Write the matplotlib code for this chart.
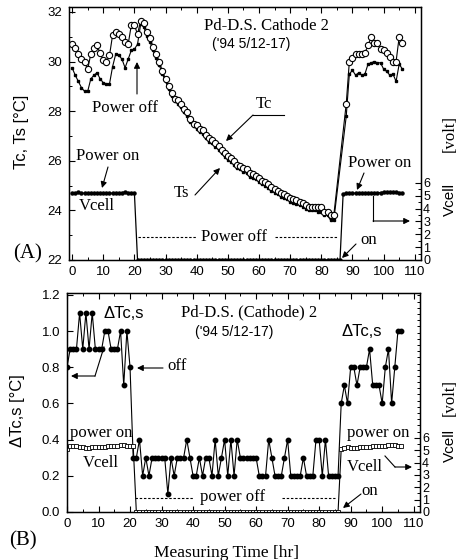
import numpy as np
import matplotlib
matplotlib.use("Agg")
import matplotlib.pyplot as plt
from matplotlib.lines import Line2D
from matplotlib.ticker import MultipleLocator, FixedLocator

W, H = 458, 560
SERIF = ['Liberation Serif', 'DejaVu Serif']
SANS = ['Liberation Sans', 'DejaVu Sans']
plt.rcParams['font.family'] = SANS

# ---------------- panel (A) data ----------------
# sampling times [hr]
t_pre = np.arange(0, 22)
t_decay = np.arange(22, 85)
t_post = np.arange(88, 107)

tc_pre = [30.7, 30.55, 30.3, 30.1, 29.97, 29.7, 30.3, 30.55, 30.66, 30.33,
          30.05, 30.0, 30.25, 31.07, 31.2, 31.1, 31.0, 30.8, 30.7, 31.47,
          31.47, 31.1]
tc_decay = [31.65, 31.55, 31.2, 30.95, 30.6, 30.3, 30.0, 29.6, 29.3, 29.0,
            28.75, 28.5, 28.45, 28.3, 28.1, 27.95, 27.7, 27.5, 27.45, 27.3,
            27.25, 27.05, 26.9, 26.85, 26.7, 26.6, 26.45, 26.3, 26.2, 26.1,
            26.0, 25.85, 25.8, 25.7, 25.65, 25.5, 25.45, 25.4, 25.3, 25.2,
            25.15, 25.05, 24.95, 24.85, 24.8, 24.7, 24.65, 24.6, 24.5, 24.45,
            24.4, 24.35, 24.3, 24.2, 24.15, 24.15, 24.15, 24.15, 24.15, 23.95,
            23.95, 23.8, 23.8]
tc_post = [28.3, 30.0, 30.15, 30.3, 30.3, 30.3, 30.35, 30.65, 31.0, 30.75,
           30.75, 30.5, 30.45, 30.35, 30.2, 30.0, 30.0, 31.0, 30.75]

ts_pre = [29.75, 29.45, 29.2, 28.95, 28.8, 28.8, 29.3, 29.45, 29.55, 29.3,
          29.15, 29.1, 29.1, 29.8, 30.3, 30.25, 30.1, 29.75, 30.1, 30.45,
          30.5, 30.7]
ts_decay = [31.5, 31.4, 31.05, 30.8, 30.45, 30.15, 29.85, 29.5, 29.2, 28.9,
            28.6, 28.4, 28.3, 28.15, 27.95, 27.8, 27.55, 27.4, 27.3, 27.15,
            27.1, 26.9, 26.75, 26.7, 26.55, 26.45, 26.3, 26.15, 26.05, 25.95,
            25.85, 25.7, 25.65, 25.55, 25.5, 25.35, 25.3, 25.25, 25.15, 25.05,
            25.0, 24.9, 24.8, 24.7, 24.65, 24.55, 24.5, 24.45, 24.35, 24.3,
            24.25, 24.2, 24.15, 24.05, 24.0, 24.0, 24.0, 23.95, 23.95, 23.8,
            23.8, 23.6, 23.6]
ts_post = [27.8, 29.5, 29.65, 29.45, 29.55, 29.45, 29.5, 29.9, 29.95, 30.0,
           29.95, 29.95, 29.7, 29.6, 29.45, 29.5, 29.2, 29.9, 29.7]

tc_t = np.concatenate([t_pre, t_decay, t_post])
tc = tc_pre + tc_decay + tc_post
ts = ts_pre + ts_decay + ts_post

# cell voltage, panel A
va_t = np.concatenate([np.arange(0, 21), np.arange(21, 87), np.arange(87, 107)])
va_on1 = [5.2, 5.2, 5.3, 5.2, 5.2, 5.2, 5.2, 5.2, 5.2, 5.2,
          5.2, 5.2, 5.2, 5.2, 5.2, 5.2, 5.25, 5.3, 5.25, 5.2, 5.2]
va_off = [0.0] * 66
va_on2 = [5.15, 5.2, 5.2, 5.2, 5.2, 5.25, 5.2, 5.2, 5.2, 5.2,
          5.25, 5.25, 5.25, 5.3, 5.3, 5.3, 5.3, 5.3, 5.25, 5.25]
va = va_on1 + va_off + va_on2

# ---------------- panel (B) data ----------------
dt_t = np.concatenate([np.arange(0, 21), np.arange(21, 87), np.arange(87, 107)])
dt_on1 = [0.8, 0.9, 0.9, 0.9, 1.1, 0.9, 1.1, 0.9, 1.1, 0.9,
          0.9, 0.9, 1.0, 1.0, 0.9, 0.9, 0.9, 1.0, 0.7, 1.0, 0.8]
dt_off = [0.3, 0.3, 0.4, 0.2, 0.3, 0.2, 0.3, 0.3, 0.3, 0.3,
          0.3, 0.1, 0.3, 0.2, 0.3, 0.3, 0.3, 0.4, 0.3, 0.2,
          0.2, 0.3, 0.2, 0.3, 0.3, 0.2, 0.4, 0.2, 0.3, 0.4,
          0.2, 0.4, 0.2, 0.4, 0.3, 0.3, 0.3, 0.3, 0.3, 0.3,
          0.2, 0.2, 0.2, 0.4, 0.3, 0.2, 0.2, 0.2, 0.3, 0.4,
          0.2, 0.2, 0.2, 0.2, 0.3, 0.2, 0.2, 0.2, 0.4, 0.4,
          0.2, 0.4, 0.2, 0.2, 0.2, 0.2]
dt_on2 = [0.6, 0.7, 0.6, 0.8, 0.8, 0.7, 0.8, 0.8, 0.8, 0.9,
          0.7, 0.7, 0.7, 0.6, 0.8, 0.9, 0.6, 0.8, 1.0, 1.0]
dt = dt_on1 + dt_off + dt_on2

vb_t = np.concatenate([np.arange(0, 22), np.arange(22, 87), np.arange(87, 107)])
vb_on1 = [5.1, 5.35, 5.3, 5.3, 5.25, 5.25, 5.2, 5.2, 5.25, 5.25, 5.25,
          5.25, 5.25, 5.3, 5.3, 5.3, 5.35, 5.4, 5.45, 5.35, 5.35, 5.35]
vb_off = [0.0] * 65
vb_on2 = [5.1, 5.2, 5.25, 5.2, 5.2, 5.2, 5.25, 5.25, 5.25, 5.25,
          5.3, 5.3, 5.3, 5.3, 5.35, 5.4, 5.4, 5.4, 5.35, 5.35]
vb = vb_on1 + vb_off + vb_on2

xticks = list(range(0, 111, 10))
v_ticks = [0, 1, 2, 3, 4, 5, 6]


def fp(x, y):
    return (x / W, 1 - y / H)


fig = plt.figure(figsize=(W / 100, H / 100), dpi=100)


def text(x, y, s, size=12, family=SERIF, **kw):
    fig.text(*fp(x, y), s, fontsize=size, family=family,
             ha=kw.pop('ha', 'center'), va=kw.pop('va', 'center'), **kw)


def arrow(x0, y0, x1, y1):
    fig.add_artist(matplotlib.patches.FancyArrowPatch(
        fp(x0, y0), fp(x1, y1), transform=fig.transFigure,
        arrowstyle='-|>', mutation_scale=9, lw=0.8, color='k',
        shrinkA=0, shrinkB=0))


def seg(xs, ys, ls='-'):
    fig.add_artist(Line2D([x / W for x in xs], [1 - y / H for y in ys],
                          transform=fig.transFigure, color='k', lw=0.8, ls=ls))


def style_axes(ax, minor_y):
    for s in ax.spines.values():
        s.set_linewidth(1.0)
    ax.set_xticks(xticks)
    ax.xaxis.set_minor_locator(MultipleLocator(5))
    ax.yaxis.set_minor_locator(MultipleLocator(minor_y))
    ax.tick_params(which='both', direction='in', top=True, right=False,
                   labelsize=9.5)
    ax.tick_params(which='major', length=4, width=0.8)
    ax.tick_params(which='minor', length=2.5, width=0.7)


# ---------------- panel (A) ----------------
ax_a = fig.add_axes([69 / W, 1 - 260 / H, 352 / W, 253 / H])
ax_a.plot(tc_t, ts, '-', color='k', lw=0.8, marker='s', ms=1.6,
          mfc='k', mec='k')
ax_a.plot(tc_t, tc, '-', color='k', lw=0.8, marker='o', ms=4.5,
          mfc='white', mec='k', mew=0.8)
ax_a.set_xlim(-1, 112)
ax_a.set_ylim(22, 32.2)
ax_a.set_yticks([22, 24, 26, 28, 30, 32])
style_axes(ax_a, 1)
ax_a.tick_params(axis='y', pad=5)
ax_a.tick_params(axis='x', pad=4)

tw_a = ax_a.twinx()
tw_a.plot(va_t, va, '-', color='k', lw=0.9, marker='o', ms=2.2,
          mfc='k', mec='k')
tw_a.set_ylim(0, 19.7)
tw_a.set_yticks(v_ticks)
tw_a.yaxis.set_minor_locator(FixedLocator(np.arange(0.5, 6, 1.0)))
tw_a.tick_params(which='both', direction='in', labelsize=9, pad=1.5)
tw_a.tick_params(which='major', length=4, width=0.8)
tw_a.tick_params(which='minor', length=2.5, width=0.7)

text(22, 132, 'Tc, Ts [°C]', size=12, family=SANS, rotation=90)
text(450, 199, 'Vcell', size=11, family=SANS, rotation=90)
text(450, 134, '[volt]', size=12, rotation=90)

text(266, 26, 'Pd-D.S. Cathode 2', size=12)
text(251, 44, "('94 5/12-17)", size=10, family=SANS)
text(125, 108, 'Power off', size=12)
arrow(137, 94, 137, 62)
text(264, 104, 'Tc', size=12)
seg([253, 284], [115, 115])
arrow(253, 115, 226, 141)
text(181, 193, 'Ts', size=12)
arrow(195, 195, 220, 168)
text(76, 156, 'Power on', size=12, ha='left')
arrow(108, 167, 102, 188)
text(97, 206, 'Vcell', size=12)
text(28, 254, '(A)', size=15)
seg([138, 197], [237, 237], ls=(0, (2.2, 1.6)))
text(234, 237, 'Power off', size=12)
seg([275, 338], [237, 237], ls=(0, (2.2, 1.6)))
text(380, 163, 'Power on', size=12)
arrow(364, 173, 357, 190)
seg([373, 373], [196, 221])
arrow(373, 221, 410, 221)
text(369, 240, 'on', size=12)
arrow(356, 244, 342, 258)

# ---------------- panel (B) ----------------
ax_b = fig.add_axes([67 / W, 1 - 512 / H, 353 / W, 219 / H])
ax_b.plot(dt_t, dt, '-', color='k', lw=0.8, marker='o', ms=3.2,
          mfc='k', mec='k')
ax_b.set_xlim(0, 112)
ax_b.set_ylim(0, 1.21)
ax_b.set_yticks([0.0, 0.2, 0.4, 0.6, 0.8, 1.0, 1.2])
ax_b.set_yticklabels(['0.0', '0.2', '0.4', '0.6', '0.8', '1.0', '1.2'])
style_axes(ax_b, 0.1)
ax_b.tick_params(axis='y', which='minor', length=0)
ax_b.tick_params(axis='y', pad=5)
ax_b.tick_params(axis='x', pad=4)

tw_b = ax_b.twinx()
tw_b.plot(vb_t, vb, '-', color='k', lw=0.8, marker='s', ms=2.6,
          mfc='white', mec='k', mew=0.6)
tw_b.set_ylim(0, 17.7)
tw_b.set_yticks(v_ticks)
tw_b.yaxis.set_minor_locator(FixedLocator(np.arange(0.5, 17.6, 0.5)))
tw_b.tick_params(which='both', direction='in', labelsize=9, pad=1.5)
tw_b.tick_params(which='major', length=4, width=0.8)
tw_b.tick_params(which='minor', length=2.5, width=0.7)

text(18, 411, 'ΔTc,s [°C]', size=12, family=SANS, rotation=90)
text(450, 446, 'Vcell', size=11, family=SANS, rotation=90)
text(450, 397, '[volt]', size=12, rotation=90)
text(227, 553, 'Measuring Time [hr]', size=12.5)
text(23, 541, '(B)', size=15)

text(249, 312, 'Pd-D.S. (Cathode) 2', size=12)
text(234, 332, "('94 5/12-17)", size=10, family=SANS)
text(124, 313, 'ΔTc,s', size=12, family=SANS)
seg([104, 95], [347, 376])
arrow(95, 376, 71, 376)
text(177, 366, 'off', size=12)
arrow(163, 368, 137, 368)
text(362, 332, 'ΔTc,s', size=12, family=SANS)
text(101, 433, 'power on', size=12)
text(101, 463, 'Vcell', size=12)
seg([135, 193], [498, 498], ls=(0, (2.2, 1.6)))
text(233, 497, 'power off', size=12)
seg([282, 335], [498, 498], ls=(0, (2.2, 1.6)))
text(378, 433, 'power on', size=12)
text(365, 467, 'Vcell', size=12)
seg([385, 395], [456, 467])
arrow(395, 467, 412, 467)
text(370, 491, 'on', size=12)
arrow(361, 494, 343, 508)

fig.savefig('out.png', dpi=100)
